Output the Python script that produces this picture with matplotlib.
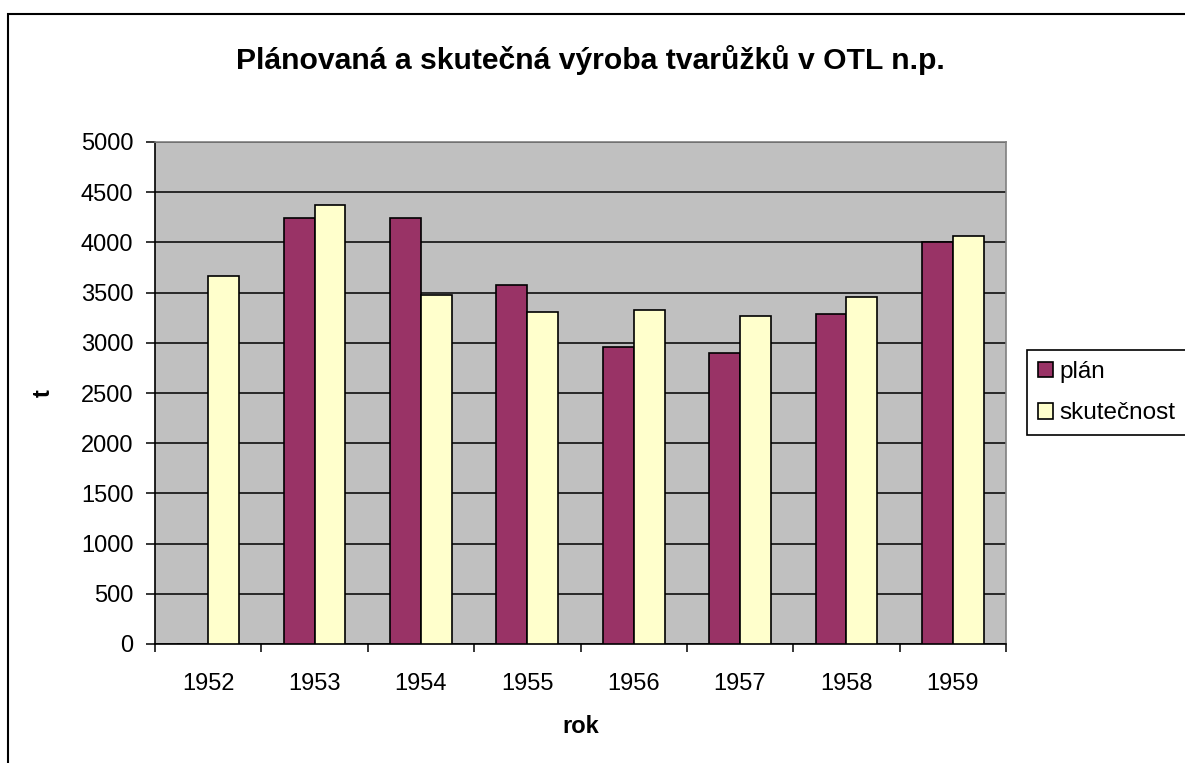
import numpy as np
import matplotlib
matplotlib.use("Agg")
from matplotlib import pyplot as plt
from matplotlib.patches import Rectangle

plt.rcParams['font.family'] = ['Liberation Sans', 'DejaVu Sans']

years = ['1952', '1953', '1954', '1955', '1956', '1957', '1958', '1959']
plan = [0, 4240, 4240, 3580, 2955, 2900, 3290, 4000]
skutecnost = [3670, 4375, 3480, 3305, 3325, 3270, 3460, 4060]
yticks = [0, 500, 1000, 1500, 2000, 2500, 3000, 3500, 4000, 4500, 5000]

W, H = 1185, 763
fig = plt.figure(figsize=(W / 100, H / 100), dpi=100)
ax = fig.add_axes([155 / W, 1 - 644 / H, (1006 - 155) / W, (644 - 142) / H])
ax.set_facecolor('#C0C0C0')

x = np.arange(len(years))
bw = 0.29
ax.bar(x - bw / 2, plan, bw, color='#993366', edgecolor='black', linewidth=1.2,
       label='plán', zorder=3)
ax.bar(x + bw / 2, skutecnost, bw, color='#FFFFCC', edgecolor='black', linewidth=1.2,
       label='skutečnost', zorder=3)

ax.set_xlim(-0.5, len(years) - 0.5)
ax.set_ylim(0, 5000)
ax.set_yticks(yticks)
ax.yaxis.grid(True, color='black', linewidth=1.1, zorder=1)
ax.set_axisbelow(True)

ax.set_xticks(x)
ax.set_xticklabels(years)
ax.set_xticks(np.arange(len(years) + 1) - 0.5, minor=True)
ax.tick_params(axis='x', which='major', length=0, pad=21, labelsize=17)
ax.tick_params(axis='x', which='minor', length=6, width=1.1, direction='out')
ax.tick_params(axis='y', length=6.5, width=1.1, pad=9, labelsize=17)

for s in ['left', 'bottom']:
    ax.spines[s].set_color('black')
    ax.spines[s].set_linewidth(1.2)
for s in ['top', 'right']:
    ax.spines[s].set_color('#808080')
    ax.spines[s].set_linewidth(1.2)

ax.set_xlabel('rok', fontsize=17, fontweight='bold')
ax.xaxis.set_label_coords(0.5, -0.165)
ax.xaxis.label.set_va('center')
ax.set_ylabel('t', fontsize=17, fontweight='bold')
ax.yaxis.set_label_coords(-0.1316, 0.5)
ax.yaxis.label.set_va('center')

fig.text(590 / W, 1 - 60 / H, 'Plánovaná a skutečná výroba tvarůžků v OTL n.p.',
         fontsize=21.7, fontweight='bold', ha='center', va='center')

leg = fig.legend(loc='upper left', bbox_to_anchor=(1027 / W, 1 - 350 / H),
                 fontsize=17.5, frameon=True, fancybox=False, edgecolor='black',
                 framealpha=1, handlelength=0.6, handleheight=0.6,
                 handletextpad=0.3, labelspacing=0.8, borderpad=0.45,
                 borderaxespad=0)
leg.get_frame().set_linewidth(1.2)

# outer chart border (cut off at the right and bottom)
fig.patches.append(Rectangle((8 / W, -0.1), 1.2, 1.1 - 14 / H, transform=fig.transFigure,
                             fill=False, edgecolor='black', linewidth=1.5))

fig.savefig('out.png', dpi=100)
